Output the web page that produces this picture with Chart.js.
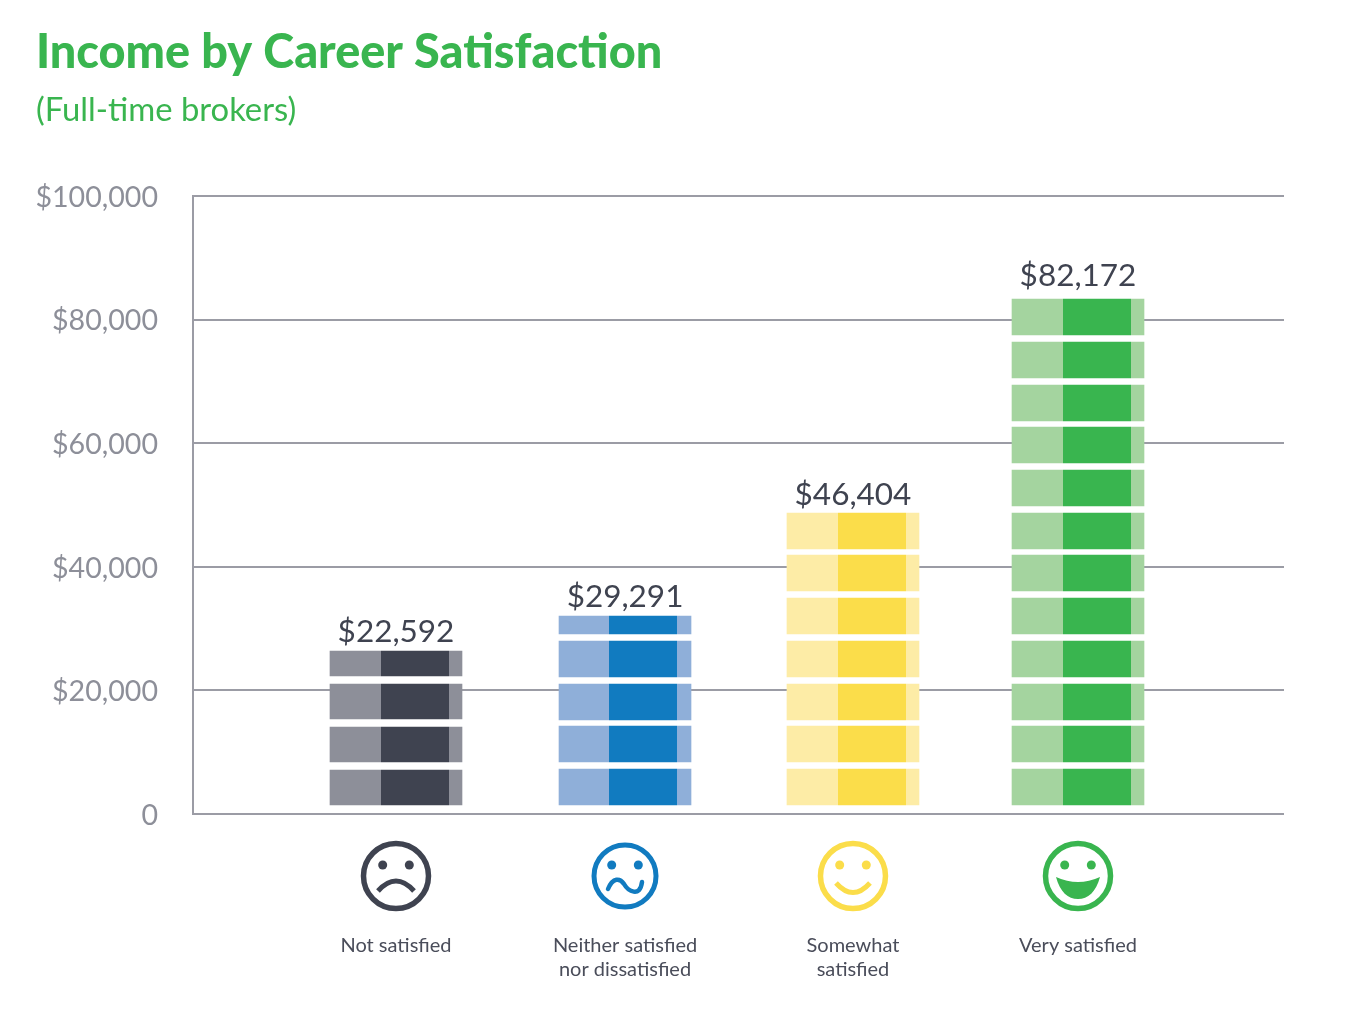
<!DOCTYPE html>
<html>
<head>
<meta charset="utf-8">
<title>Income by Career Satisfaction</title>
<script src="https://cdn.jsdelivr.net/npm/chart.js@4/dist/chart.umd.min.js"></script>
<style>
  html, body { margin: 0; padding: 0; background: #fff; }
  canvas { display: block; }
</style>
</head>
<body>
<canvas id="incomeChart" width="1362" height="1018"></canvas>
<script>
// labels under each column and the income printed above it
const categories = [
  ['Not satisfied'],
  ['Neither satisfied', 'nor dissatisfied'],
  ['Somewhat', 'satisfied'],
  ['Very satisfied']
];
const incomes = [22592, 29291, 46404, 82172];
const yTicks = [0, 20000, 40000, 60000, 80000, 100000];

// the columns are pictograms: stacks of bricks, [from, to]
const notSatisfied = [[1456, 7120], [8414, 14078], [15372, 21036], [22330, 26375]];
const neither = [[1456, 7282], [8414, 14239], [15210, 21036], [22168, 27994], [29126, 32039]];
const somewhat = [[1456, 7282], [8414, 14239], [15210, 21036], [22168, 27994], [29126, 34951],
  [36084, 41909], [42880, 48706]];
const very = [[1456, 7282], [8414, 14239], [15210, 21036], [22168, 27994], [29126, 34951],
  [36084, 41909], [42880, 48706], [49838, 55663], [56796, 62621], [63592, 69417],
  [70550, 76375], [77508, 83333]];

// column centres on the x axis, the gaps are not quite even in the original
const slots = [0.8931, 1.9007, 2.9037, 3.8937];

const dark = ['#3f4350', '#117bc0', '#fbdd4a', '#39b54f'];
const light = ['#8d8f99', '#8fafd9', '#fdeca6', '#a4d49f'];
const gridColor = '#9b9ca5';
const barWidth = 132;
const bandStart = [51, 50, 51, 51]; // where the dark band starts inside a brick
const bandWidth = 68;
const labelGap = [9, 9, 8, 13];

// light / dark / light bands across one brick
function brickFill(i) {
  return function (ctx) {
    const chart = ctx.chart;
    if (!chart.chartArea) return light[i];
    const c = chart.scales.x.getPixelForValue(slots[i]);
    const g = chart.ctx.createLinearGradient(c - barWidth / 2, 0, c + barWidth / 2, 0);
    const a = bandStart[i] / barWidth;
    const b = (bandStart[i] + bandWidth) / barWidth;
    g.addColorStop(0, light[i]);
    g.addColorStop(a, light[i]);
    g.addColorStop(a, dark[i]);
    g.addColorStop(b, dark[i]);
    g.addColorStop(b, light[i]);
    g.addColorStop(1, light[i]);
    return g;
  };
}

function brickDataset(name, bricks, i) {
  return {
    label: name,
    data: bricks.map(function (b) { return { x: slots[i], y: b }; }),
    backgroundColor: brickFill(i),
    grouped: false,
    maxBarThickness: barWidth,
    barPercentage: 1,
    categoryPercentage: 1
  };
}

// income above each stack
const valueLabels = {
  id: 'valueLabels',
  afterDatasetsDraw: function (chart) {
    const c = chart.ctx;
    c.save();
    c.font = '31.5px Lato';
    c.fillStyle = '#3f4350';
    c.textAlign = 'center';
    c.textBaseline = 'alphabetic';
    chart.data.datasets.forEach(function (ds, i) {
      const tops = ds.data.map(function (d) { return d.y[1]; });
      const y = chart.scales.y.getPixelForValue(Math.max.apply(null, tops));
      const x = chart.scales.x.getPixelForValue(slots[i]);
      c.fillText('$' + incomes[i].toLocaleString('en-US'), x, y - labelGap[i]);
    });
    c.restore();
  }
};

function drawEyes(c) {
  [-13.3, 13.3].forEach(function (ex) {
    c.beginPath();
    c.arc(ex, -11, 4.5, 0, Math.PI * 2);
    c.fill();
  });
}

// mood faces between the axis and the labels
const faces = {
  id: 'faces',
  afterDraw: function (chart) {
    const c = chart.ctx;
    const y = chart.chartArea.bottom + 62;
    dark.forEach(function (col, i) {
      c.save();
      c.translate(chart.scales.x.getPixelForValue(slots[i]), y);
      c.strokeStyle = col;
      c.fillStyle = col;
      c.lineWidth = i === 1 ? 5 : 5.5;
      c.beginPath();
      c.arc(0, 0, i === 1 ? 31 : 32.5, 0, Math.PI * 2);
      c.stroke();
      drawEyes(c);
      c.lineWidth = 5;
      c.beginPath();
      if (i === 0) {
        c.moveTo(-18, 15);
        c.quadraticCurveTo(0, -5, 18, 15);
        c.stroke();
      } else if (i === 1) {
        c.lineWidth = 4.5;
        c.lineCap = 'round';
        c.moveTo(-17, 13);
        c.bezierCurveTo(-12, 1, -5, 2, -1, 8);
        c.bezierCurveTo(3, 15, 15, 22, 17, 6);
        c.stroke();
      } else if (i === 2) {
        c.moveTo(-17, 7);
        c.quadraticCurveTo(0, 26, 17, 7);
        c.stroke();
      } else {
        c.moveTo(-22, 1);
        c.quadraticCurveTo(0, 11, 22, 1);
        c.bezierCurveTo(18, 16, 10, 23, 0, 23);
        c.bezierCurveTo(-10, 23, -18, 16, -22, 1);
        c.closePath();
        c.fill();
      }
      c.restore();
    });
  }
};

new Chart(document.getElementById('incomeChart'), {
  type: 'bar',
  data: {
    datasets: [
      brickDataset('Not satisfied', notSatisfied, 0),
      brickDataset('Neither satisfied nor dissatisfied', neither, 1),
      brickDataset('Somewhat satisfied', somewhat, 2),
      brickDataset('Very satisfied', very, 3)
    ]
  },
  plugins: [valueLabels, faces],
  options: {
    responsive: false,
    animation: false,
    devicePixelRatio: 1,
    layout: { padding: { left: 36, right: 78, top: 25, bottom: 0 } },
    plugins: {
      legend: { display: false },
      tooltip: { enabled: false },
      title: {
        display: true,
        text: 'Income by Career Satisfaction',
        align: 'start',
        color: '#39b54f',
        font: { family: 'Lato', size: 46.8, weight: '900', lineHeight: 1.2 },
        padding: { top: 0, bottom: 10 }
      },
      subtitle: {
        display: true,
        text: '(Full-time brokers)',
        align: 'start',
        color: '#39b54f',
        font: { family: 'Lato', size: 32.8, weight: 'normal', lineHeight: 1.2 },
        padding: { top: 0, bottom: 65.48 }
      }
    },
    scales: {
      x: {
        type: 'linear',
        offset: false,
        min: 0,
        max: 4.8,
        grid: { display: false },
        border: { display: false },
        afterBuildTicks: function (scale) {
          scale.ticks = slots.map(function (v) { return { value: v }; });
        },
        afterFit: function (scale) { scale.height = 204; },
        ticks: {
          autoSkip: false,
          maxRotation: 0,
          padding: 112,
          color: '#4a4d5a',
          font: { family: 'Lato', size: 20, lineHeight: 1.18 },
          callback: function (v, i) { return categories[i]; }
        }
      },
      y: {
        min: 0,
        max: 100000,
        grid: { color: gridColor, lineWidth: 2, drawTicks: false },
        border: { color: gridColor, width: 2 },
        afterBuildTicks: function (scale) {
          scale.ticks = yTicks.map(function (v) { return { value: v }; });
        },
        afterFit: function (scale) { scale.width = 157; },
        ticks: {
          padding: 35,
          labelOffset: 1.5,
          color: '#8d8f99',
          font: { family: 'Lato', size: 28.6 },
          callback: function (v) { return v === 0 ? '0' : '$' + v.toLocaleString('en-US'); }
        }
      }
    }
  }
});
</script>
</body>
</html>
